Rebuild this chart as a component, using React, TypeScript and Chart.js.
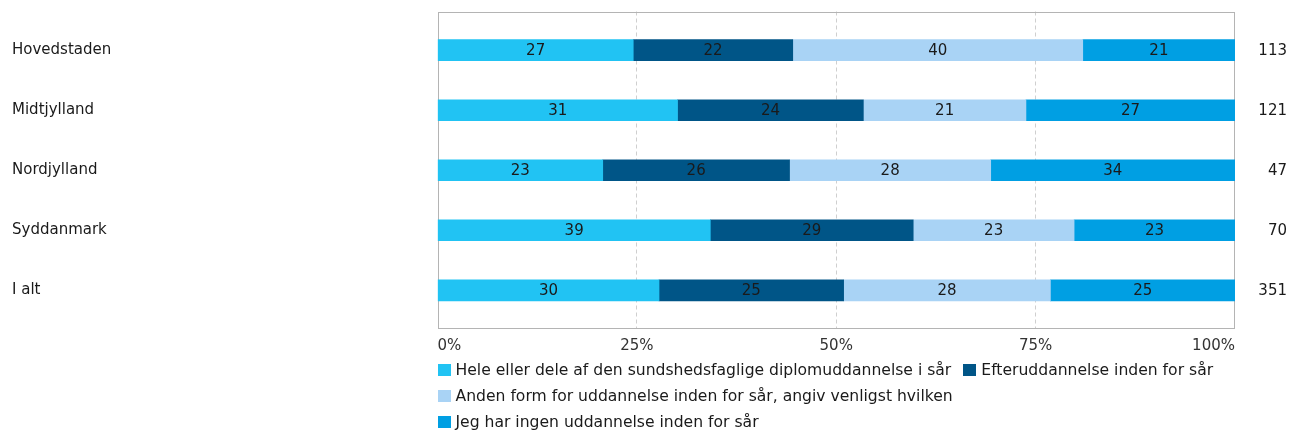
import { useEffect, useRef } from "react";
import { Chart, registerables } from "chart.js";

Chart.register(...registerables);

const categories = ["Hovedstaden", "Midtjylland", "Nordjylland", "Syddanmark", "I alt"];
const seriesNames = [
  "Hele eller dele af den sundshedsfaglige diplomuddannelse i sår",
  "Efteruddannelse inden for sår",
  "Anden form for uddannelse inden for sår, angiv venligst hvilken",
  "Jeg har ingen uddannelse inden for sår",
];
const seriesColors = ["#21C3F3", "#005587", "#A9D3F5", "#009FE3"];
const heleValues = [27, 31, 23, 39, 30];
const efterValues = [22, 24, 26, 29, 25];
const andenValues = [40, 21, 28, 23, 28];
const ingenValues = [21, 27, 34, 23, 25];
const totals = [113, 121, 47, 70, 351];
const xTickValues = [0, 25, 50, 75, 100];

const FONT = "'DejaVu Sans', Verdana, sans-serif";
const allSeries = [heleValues, efterValues, andenValues, ingenValues];

export default function App() {
  const ref = useRef<HTMLCanvasElement | null>(null);

  useEffect(() => {
    if (!ref.current) return;
    const sums = categories.map((_, i) => allSeries.reduce((s, arr) => s + arr[i], 0));
    const padFrac = 0.144;

    const boxPlugin = {
      id: "boxPlugin",
      beforeDatasetsDraw(chart: any) {
        const { ctx, chartArea } = chart;
        ctx.save();
        ctx.strokeStyle = "#b4b4b4";
        ctx.lineWidth = 1;
        const l = Math.round(chartArea.left) + 0.5;
        const r = Math.round(chartArea.right) - 0.5;
        const t = Math.round(chartArea.top) + 0.5;
        const b = Math.round(chartArea.bottom) - 0.5;
        ctx.strokeRect(l, t, r - l, b - t);
        ctx.restore();
      },
    };

    const labelPlugin = {
      id: "labelPlugin",
      afterDatasetsDraw(chart: any) {
        const { ctx, chartArea } = chart;
        ctx.save();
        ctx.font = `15px ${FONT}`;
        ctx.fillStyle = "#1a1a1a";
        ctx.textBaseline = "middle";
        ctx.textAlign = "center";
        chart.data.datasets.forEach((ds: any, d: number) => {
          const meta = chart.getDatasetMeta(d);
          meta.data.forEach((el: any, i: number) => {
            const p = el.getProps(["x", "base", "y"], true);
            ctx.fillText(String(ds.rawValues[i]), (p.x + p.base) / 2, p.y + 1);
          });
        });
        ctx.textAlign = "right";
        const yScale = chart.scales.y;
        totals.forEach((t, i) => {
          ctx.fillText(String(t), chartArea.right + 52, yScale.getPixelForValue(i) + 1);
        });
        ctx.restore();
      },
    };

    const legendPlugin = {
      id: "legendPlugin",
      afterDraw(chart: any) {
        const { ctx, chartArea } = chart;
        ctx.save();
        ctx.font = `15.6px ${FONT}`;
        ctx.textBaseline = "middle";
        ctx.textAlign = "left";
        const maxW = chartArea.right - chartArea.left;
        const boxW = 13;
        const boxH = 12;
        const gap = 5;
        const itemGap = 12;
        let x = chartArea.left;
        let row = 0;
        const rowY = (r: number) => chartArea.bottom + 41 + r * 26;
        chart.data.datasets.forEach((ds: any) => {
          const tw = ctx.measureText(ds.label).width;
          const w = boxW + gap + tw;
          if (x > chartArea.left && x - chartArea.left + w > maxW) {
            row += 1;
            x = chartArea.left;
          }
          const y = rowY(row);
          ctx.fillStyle = ds.backgroundColor;
          ctx.fillRect(Math.round(x), Math.round(y - boxH / 2), boxW, boxH);
          ctx.fillStyle = "#1a1a1a";
          ctx.fillText(ds.label, x + boxW + gap, y + 1);
          x += w + itemGap;
        });
        ctx.restore();
      },
    };

    const chart = new Chart(ref.current, {
      type: "bar",
      data: {
        labels: categories,
        datasets: allSeries.map((arr, s) => ({
          label: seriesNames[s],
          data: arr.map((v, i) => (v / sums[i]) * 100),
          rawValues: arr,
          backgroundColor: seriesColors[s],
          borderWidth: 0,
          barThickness: 21,
        })) as any,
      },
      options: {
        indexAxis: "y",
        responsive: false,
        animation: false,
        devicePixelRatio: 1,
        layout: { padding: { left: 12, right: 55, top: 11.5, bottom: 71 } },
        plugins: { legend: { display: false }, tooltip: { enabled: false } },
        scales: {
          x: {
            type: "linear",
            stacked: true,
            min: 0,
            max: 100,
            afterBuildTicks: (s: any) => {
              s.ticks = xTickValues.map((v) => ({ value: v }));
            },
            afterFit: (s: any) => {
              s.height = 30;
            },
            ticks: {
              align: "inner",
              color: "#333",
              font: { family: FONT, size: 15 },
              padding: 8,
              callback: (v: any) => `${v}%`,
            },
            grid: {
              drawTicks: false,
              color: (c: any) =>
                c.tick && (c.tick.value === 0 || c.tick.value === 100) ? "rgba(0,0,0,0)" : "#cfcfcf",
            },
            border: { display: false, dash: [4, 3] },
          },
          y: {
            type: "category",
            stacked: true,
            grid: { display: false },
            border: { display: false },
            afterFit: (s: any) => {
              s.width = 425.5;
            },
            afterBuildTicks: (s: any) => {
              s._valueRange = categories.length + 2 * padFrac;
              s._startValue = -0.5 - padFrac;
            },
            ticks: {
              crossAlign: "far",
              color: "#1a1a1a",
              padding: 0,
              font: { family: FONT, size: 15 },
            },
          },
        },
      } as any,
      plugins: [boxPlugin, labelPlugin, legendPlugin],
    });
    return () => chart.destroy();
  }, []);

  return (
    <div style={{ position: "fixed", left: 0, top: 0, width: 1290, height: 430, background: "#fff" }}>
      <canvas ref={ref} width={1290} height={430} style={{ width: 1290, height: 430 }} />
    </div>
  );
}
